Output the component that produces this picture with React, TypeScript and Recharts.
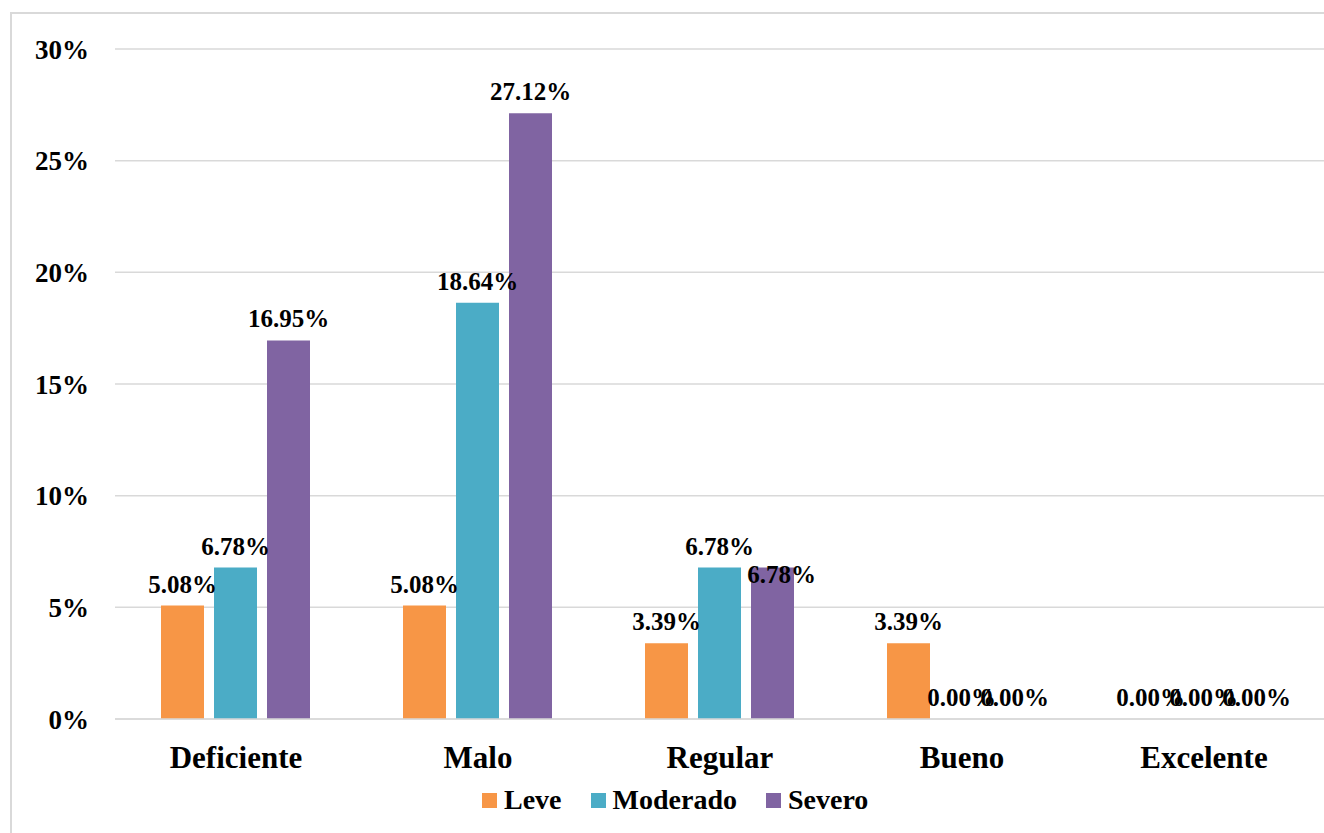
import React from 'react';
import { BarChart, Bar, XAxis, YAxis, CartesianGrid, Legend, LabelList } from 'recharts';

const categorias = ['Deficiente', 'Malo', 'Regular', 'Bueno', 'Excelente'];
const leve = [5.08, 5.08, 3.39, 3.39, 0];
const moderado = [6.78, 18.64, 6.78, 0, 0];
const severo = [16.95, 27.12, 6.78, 0, 0];
const ticksY = [0, 5, 10, 15, 20, 25, 30];

const series = [
  { key: 'Leve', color: '#F79646' },
  { key: 'Moderado', color: '#4BACC6' },
  { key: 'Severo', color: '#8064A2' },
];

const FONT = "'Liberation Serif', 'Times New Roman', serif";

const data = categorias.map((c, i) => ({
  nivel: c,
  Leve: leve[i],
  Moderado: moderado[i],
  Severo: severo[i],
}));

// etiqueta de Severo/Regular que Excel desplaza para no chocar con la de Moderado
const desplazada = (serie: string, index: number) => serie === 'Severo' && index === 2;

const makeLabel = (serie: string) => (props: any) => {
  const { x, y, width, value, index } = props;
  const mover = desplazada(serie, index);
  return (
    <text
      x={Number(x) + Number(width) / 2 + (mover ? 9 : 0)}
      y={Number(y) - 13 + (mover ? 28 : 0)}
      textAnchor="middle"
      style={{ fontFamily: FONT, fontWeight: 'bold', fontSize: 25, fill: '#000' }}
    >
      {`${Number(value).toFixed(2)}%`}
    </text>
  );
};

const LeyendaCustom = () => (
  <div
    style={{
      display: 'flex',
      alignItems: 'center',
      paddingLeft: 470,
      fontFamily: FONT,
      fontWeight: 'bold',
      fontSize: 28,
      color: '#000',
      lineHeight: '30px',
    }}
  >
    {series.map((s) => (
      <div key={s.key} style={{ display: 'flex', alignItems: 'center', marginRight: 29 }}>
        <span style={{ width: 15, height: 15, background: s.color, display: 'inline-block', marginRight: 7 }} />
        <span>{s.key}</span>
      </div>
    ))}
  </div>
);

const App: React.FC = () => {
  return (
    <div
      style={{
        position: 'fixed',
        left: 0,
        top: 0,
        width: 1324,
        height: 833,
        overflow: 'hidden',
        background: '#fff',
      }}
    >
      <div
        style={{
          position: 'absolute',
          left: 10,
          top: 12,
          width: 1340,
          height: 840,
          border: '2px solid #d9d9d9',
          boxSizing: 'border-box',
        }}
      />
      <div style={{ position: 'absolute', left: 12, top: 14 }}>
        <BarChart
          width={1316}
          height={811}
          data={data}
          margin={{ top: 35, right: 3, bottom: 6, left: 0 }}
          barGap={10}
          barCategoryGap={46}
        >
          <CartesianGrid vertical={false} stroke="#d9d9d9" strokeWidth={1.5} />
          <XAxis
            dataKey="nivel"
            axisLine={{ stroke: '#d9d9d9', strokeWidth: 1.5 }}
            tickLine={false}
            tickSize={0}
            tickMargin={27}
            height={66}
            tick={{ fontFamily: FONT, fontWeight: 'bold', fontSize: 31, fill: '#000' }}
          />
          <YAxis
            domain={[0, 30]}
            ticks={ticksY}
            width={103}
            axisLine={false}
            tickLine={false}
            tickSize={0}
            tickMargin={26}
            tickFormatter={(v: number) => `${v}%`}
            tick={{ fontFamily: FONT, fontWeight: 'bold', fontSize: 27, fill: '#000' }}
          />
          <Legend verticalAlign="bottom" height={34} content={<LeyendaCustom />} />
          {series.map((s) => (
            <Bar
              key={s.key}
              dataKey={s.key}
              fill={s.color}
              minPointSize={0.01}
              isAnimationActive={false}
            >
              <LabelList dataKey={s.key} content={makeLabel(s.key)} />
            </Bar>
          ))}
        </BarChart>
      </div>
    </div>
  );
};

export default App;
